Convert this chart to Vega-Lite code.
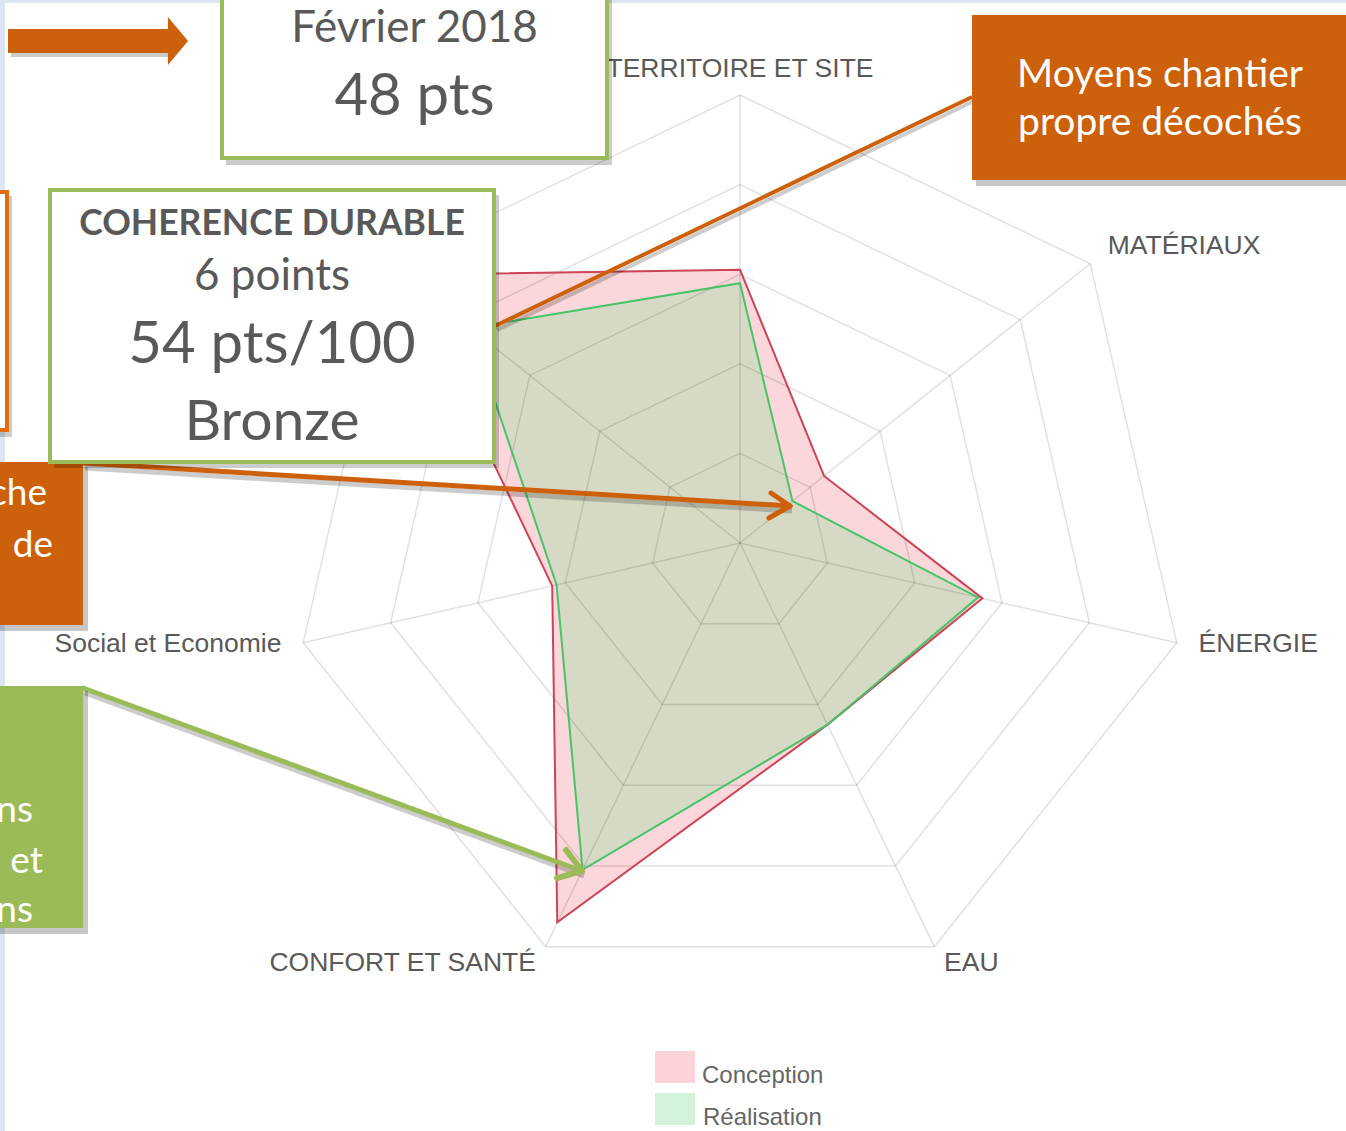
{
  "$schema": "https://vega.github.io/schema/vega-lite/v6.json",
  "width": 1346,
  "height": 1131,
  "autosize": {"type": "none"},
  "padding": 0,
  "background": "white",
  "config": {"view": {"stroke": null}},
  "datasets": {
    "radar": [
      {"k": 0, "axe": "TERRITOIRE ET SITE", "serie": "Conception", "score": 61},
      {"k": 1, "axe": "MATÉRIAUX", "serie": "Conception", "score": 24},
      {"k": 2, "axe": "ÉNERGIE", "serie": "Conception", "score": 55.5},
      {"k": 3, "axe": "EAU", "serie": "Conception", "score": 45},
      {"k": 4, "axe": "CONFORT ET SANTÉ", "serie": "Conception", "score": 94},
      {"k": 5, "axe": "Social et Economie", "serie": "Conception", "score": 43},
      {"k": 6, "axe": "GESTION DE PROJET", "serie": "Conception", "score": 96},
      {"k": 0, "axe": "TERRITOIRE ET SITE", "serie": "Réalisation", "score": 58},
      {"k": 1, "axe": "MATÉRIAUX", "serie": "Réalisation", "score": 15},
      {"k": 2, "axe": "ÉNERGIE", "serie": "Réalisation", "score": 54.5},
      {"k": 3, "axe": "EAU", "serie": "Réalisation", "score": 45},
      {"k": 4, "axe": "CONFORT ET SANTÉ", "serie": "Réalisation", "score": 81},
      {"k": 5, "axe": "Social et Economie", "serie": "Réalisation", "score": 42},
      {"k": 6, "axe": "GESTION DE PROJET", "serie": "Réalisation", "score": 77}
    ],
    "one": [{}]
  },
  "layer": [
    {
      "data": {"name": "radar"},
      "transform": [
        {"filter": "datum.serie==='Conception'"},
        {"calculate": "datum.score*cos(PI/2 - datum.k*2*PI/7)", "as": "px"},
        {"calculate": "datum.score*sin(PI/2 - datum.k*2*PI/7)", "as": "py"}
      ],
      "mark": {"type": "line", "interpolate": "linear-closed", "fill": "#fbd6da", "strokeOpacity": 0, "strokeWidth": 0},
      "encoding": {
        "x": {"field": "px", "type": "quantitative", "scale": {"domain": [-165.18, 135.27], "nice": false, "zero": false}, "axis": null},
        "y": {"field": "py", "type": "quantitative", "scale": {"domain": [-131.25, 121.21], "nice": false, "zero": false}, "axis": null},
        "order": {"field": "k", "type": "quantitative"}
      }
    },
    {
      "data": {"name": "radar"},
      "transform": [
        {"filter": "datum.serie==='Réalisation'"},
        {"calculate": "datum.score*cos(PI/2 - datum.k*2*PI/7)", "as": "px"},
        {"calculate": "datum.score*sin(PI/2 - datum.k*2*PI/7)", "as": "py"}
      ],
      "mark": {"type": "line", "interpolate": "linear-closed", "fill": "#d6dac5", "strokeOpacity": 0, "strokeWidth": 0},
      "encoding": {
        "x": {"field": "px", "type": "quantitative"},
        "y": {"field": "py", "type": "quantitative"},
        "order": {"field": "k", "type": "quantitative"}
      }
    },
    {
      "data": {"name": "radar"},
      "transform": [
        {"filter": "datum.serie==='Conception'"},
        {"calculate": "[20,40,60,80,100]", "as": "lv"},
        {"flatten": ["lv"]},
        {"calculate": "datum.lv*cos(PI/2 - datum.k*2*PI/7)", "as": "gx"},
        {"calculate": "datum.lv*sin(PI/2 - datum.k*2*PI/7)", "as": "gy"}
      ],
      "mark": {"type": "line", "interpolate": "linear-closed", "stroke": "#000000", "strokeOpacity": 0.12, "strokeWidth": 1.5},
      "encoding": {
        "x": {"field": "gx", "type": "quantitative"},
        "y": {"field": "gy", "type": "quantitative"},
        "detail": {"field": "lv", "type": "nominal"},
        "order": {"field": "k", "type": "quantitative"}
      }
    },
    {
      "data": {"name": "radar"},
      "transform": [
        {"filter": "datum.serie==='Conception'"},
        {"calculate": "[0,100]", "as": "sv"},
        {"flatten": ["sv"]},
        {"calculate": "datum.sv*cos(PI/2 - datum.k*2*PI/7)", "as": "sx"},
        {"calculate": "datum.sv*sin(PI/2 - datum.k*2*PI/7)", "as": "sy"}
      ],
      "mark": {"type": "line", "stroke": "#000000", "strokeOpacity": 0.12, "strokeWidth": 1.5},
      "encoding": {
        "x": {"field": "sx", "type": "quantitative"},
        "y": {"field": "sy", "type": "quantitative"},
        "detail": {"field": "k", "type": "nominal"},
        "order": {"field": "sv", "type": "quantitative"}
      }
    },
    {
      "data": {"name": "radar"},
      "transform": [
        {"filter": "datum.serie==='Conception'"},
        {"calculate": "datum.score*cos(PI/2 - datum.k*2*PI/7)", "as": "px"},
        {"calculate": "datum.score*sin(PI/2 - datum.k*2*PI/7)", "as": "py"}
      ],
      "mark": {"type": "line", "interpolate": "linear-closed", "stroke": "#cc4455", "strokeWidth": 2},
      "encoding": {
        "x": {"field": "px", "type": "quantitative"},
        "y": {"field": "py", "type": "quantitative"},
        "order": {"field": "k", "type": "quantitative"}
      }
    },
    {
      "data": {"name": "radar"},
      "transform": [
        {"filter": "datum.serie==='Réalisation'"},
        {"calculate": "datum.score*cos(PI/2 - datum.k*2*PI/7)", "as": "px"},
        {"calculate": "datum.score*sin(PI/2 - datum.k*2*PI/7)", "as": "py"}
      ],
      "mark": {"type": "line", "interpolate": "linear-closed", "stroke": "#45c46b", "strokeWidth": 2},
      "encoding": {
        "x": {"field": "px", "type": "quantitative"},
        "y": {"field": "py", "type": "quantitative"},
        "order": {"field": "k", "type": "quantitative"}
      }
    },
    {
      "data": {"name": "radar"},
      "transform": [
        {"filter": "datum.serie==='Conception' && datum.k==0"},
        {"calculate": "105*cos(PI/2 - datum.k*2*PI/7)", "as": "lx"},
        {"calculate": "105*sin(PI/2 - datum.k*2*PI/7)", "as": "ly"}
      ],
      "mark": {"type": "text", "align": "center", "baseline": "middle", "font": "Liberation Sans", "fontSize": 26.5, "color": "#595959", "dy": -4},
      "encoding": {"x": {"field": "lx", "type": "quantitative"}, "y": {"field": "ly", "type": "quantitative"}, "text": {"field": "axe"}}
    },
    {
      "data": {"name": "radar"},
      "transform": [
        {"filter": "datum.serie==='Conception' && datum.k>=1 && datum.k<=3"},
        {"calculate": "105*cos(PI/2 - datum.k*2*PI/7)", "as": "lx"},
        {"calculate": "105*sin(PI/2 - datum.k*2*PI/7)", "as": "ly"}
      ],
      "mark": {"type": "text", "align": "left", "baseline": "middle", "font": "Liberation Sans", "fontSize": 26.5, "color": "#595959", "dy": -4},
      "encoding": {"x": {"field": "lx", "type": "quantitative"}, "y": {"field": "ly", "type": "quantitative"}, "text": {"field": "axe"}}
    },
    {
      "data": {"name": "radar"},
      "transform": [
        {"filter": "datum.serie==='Conception' && datum.k>=4 && datum.k<=5"},
        {"calculate": "105*cos(PI/2 - datum.k*2*PI/7)", "as": "lx"},
        {"calculate": "105*sin(PI/2 - datum.k*2*PI/7)", "as": "ly"}
      ],
      "mark": {"type": "text", "align": "right", "baseline": "middle", "font": "Liberation Sans", "fontSize": 26.5, "color": "#595959", "dy": -4},
      "encoding": {"x": {"field": "lx", "type": "quantitative"}, "y": {"field": "ly", "type": "quantitative"}, "text": {"field": "axe"}}
    },
    {
      "data": {"name": "one"},
      "mark": {"type": "rect", "fill": "#dce6f2"},
      "encoding": {"x": {"datum": -165.18}, "x2": {"datum": -164.06}, "y": {"datum": -131.25}, "y2": {"datum": 121.21}}
    },
    {
      "data": {"name": "one"},
      "mark": {"type": "rect", "fill": "#dce6f2"},
      "encoding": {"x": {"datum": -165.18}, "x2": {"datum": 135.27}, "y": {"datum": 120.54}, "y2": {"datum": 121.21}}
    },
    {
      "data": {"name": "one"},
      "mark": {"type": "rect", "fill": "#fbd3d8"},
      "encoding": {"x": {"datum": -18.97}, "x2": {"datum": -10.04}, "y": {"datum": -113.39}, "y2": {"datum": -120.54}}
    },
    {
      "data": {"name": "one"},
      "mark": {"type": "rect", "fill": "#d2f3da"},
      "encoding": {"x": {"datum": -18.97}, "x2": {"datum": -10.04}, "y": {"datum": -122.77}, "y2": {"datum": -129.91}}
    },
    {
      "data": {"name": "one"},
      "mark": {"type": "text", "text": "Conception", "align": "left", "baseline": "middle", "font": "Liberation Sans", "fontSize": 24, "color": "#666666"},
      "encoding": {"x": {"datum": -8.48}, "y": {"datum": -119.0}}
    },
    {
      "data": {"name": "one"},
      "mark": {"type": "text", "text": "Réalisation", "align": "left", "baseline": "middle", "font": "Liberation Sans", "fontSize": 24, "color": "#666666"},
      "encoding": {"x": {"datum": -8.26}, "y": {"datum": -128.3}}
    },
    {
      "data": {"name": "one"},
      "mark": {"type": "rect", "fill": "#000000", "opacity": 0.2},
      "encoding": {"x": {"datum": -162.72}, "x2": {"datum": -127.0}, "y": {"datum": 114.06}, "y2": {"datum": 108.48}}
    },
    {
      "data": {"name": "one"},
      "mark": {"type": "rect", "fill": "#cd600a"},
      "encoding": {"x": {"datum": -163.39}, "x2": {"datum": -127.68}, "y": {"datum": 114.73}, "y2": {"datum": 109.38}}
    },
    {
      "data": {"name": "one"},
      "mark": {"type": "point", "filled": true, "shape": "M-0.42,-1L0.42,0L-0.42,1Z", "size": 2304, "color": "#cd600a", "opacity": 1},
      "encoding": {"x": {"datum": -125.45}, "y": {"datum": 112.05}}
    },
    {
      "data": {"name": "one"},
      "mark": {"type": "rule", "stroke": "#000000", "strokeOpacity": 0.2, "strokeWidth": 4},
      "encoding": {"x": {"datum": 52.23}, "y": {"datum": 98.66}, "x2": {"datum": -54.24}, "y2": {"datum": 47.54}}
    },
    {
      "data": {"name": "one"},
      "mark": {"type": "rule", "stroke": "#cd600a", "strokeWidth": 4},
      "encoding": {"x": {"datum": 51.79}, "y": {"datum": 99.55}, "x2": {"datum": -54.69}, "y2": {"datum": 48.44}}
    },
    {
      "data": {"name": "one"},
      "mark": {"type": "rule", "stroke": "#000000", "strokeOpacity": 0.2, "strokeWidth": 5},
      "encoding": {"x": {"datum": -146.21}, "y": {"datum": 16.74}, "x2": {"datum": 11.61}, "y2": {"datum": 7.14}}
    },
    {
      "data": {"name": "one"},
      "mark": {"type": "rule", "stroke": "#cd600a", "strokeWidth": 5, "strokeCap": "round"},
      "encoding": {"x": {"datum": -146.65}, "y": {"datum": 17.86}, "x2": {"datum": 11.16}, "y2": {"datum": 8.26}}
    },
    {
      "data": {"name": "one"},
      "mark": {"type": "rule", "stroke": "#cd600a", "strokeWidth": 5, "strokeCap": "round"},
      "encoding": {"x": {"datum": 11.16}, "y": {"datum": 8.26}, "x2": {"datum": 6.92}, "y2": {"datum": 11.16}}
    },
    {
      "data": {"name": "one"},
      "mark": {"type": "rule", "stroke": "#cd600a", "strokeWidth": 5, "strokeCap": "round"},
      "encoding": {"x": {"datum": 11.16}, "y": {"datum": 8.26}, "x2": {"datum": 6.47}, "y2": {"datum": 5.58}}
    },
    {
      "data": {"name": "one"},
      "mark": {"type": "rule", "stroke": "#000000", "strokeOpacity": 0.2, "strokeWidth": 5},
      "encoding": {"x": {"datum": -146.21}, "y": {"datum": -33.48}, "x2": {"datum": -34.82}, "y2": {"datum": -74.33}}
    },
    {
      "data": {"name": "one"},
      "mark": {"type": "rule", "stroke": "#9bbb59", "strokeWidth": 5, "strokeCap": "round"},
      "encoding": {"x": {"datum": -146.65}, "y": {"datum": -32.37}, "x2": {"datum": -35.27}, "y2": {"datum": -73.21}}
    },
    {
      "data": {"name": "one"},
      "mark": {"type": "rule", "stroke": "#9bbb59", "strokeWidth": 6, "strokeCap": "round"},
      "encoding": {"x": {"datum": -35.27}, "y": {"datum": -73.21}, "x2": {"datum": -38.84}, "y2": {"datum": -68.53}}
    },
    {
      "data": {"name": "one"},
      "mark": {"type": "rule", "stroke": "#9bbb59", "strokeWidth": 6, "strokeCap": "round"},
      "encoding": {"x": {"datum": -35.27}, "y": {"datum": -73.21}, "x2": {"datum": -40.85}, "y2": {"datum": -74.78}}
    },
    {
      "data": {"name": "one"},
      "mark": {"type": "rect", "fill": "#000000", "opacity": 0.2},
      "encoding": {"x": {"datum": -187.5}, "x2": {"datum": -162.5}, "y": {"datum": 77.46}, "y2": {"datum": 23.66}}
    },
    {
      "data": {"name": "one"},
      "mark": {"type": "rect", "fill": "#ffffff", "stroke": "#e46c0a", "strokeWidth": 4},
      "encoding": {"x": {"datum": -187.5}, "x2": {"datum": -163.62}, "y": {"datum": 78.35}, "y2": {"datum": 25.22}}
    },
    {
      "data": {"name": "one"},
      "mark": {"type": "rect", "fill": "#000000", "opacity": 0.22},
      "encoding": {"x": {"datum": -187.5}, "x2": {"datum": -145.54}, "y": {"datum": 16.96}, "y2": {"datum": -19.64}}
    },
    {
      "data": {"name": "one"},
      "mark": {"type": "rect", "fill": "#cd600a"},
      "encoding": {"x": {"datum": -187.5}, "x2": {"datum": -146.65}, "y": {"datum": 18.08}, "y2": {"datum": -18.30}}
    },
    {
      "data": {"name": "one"},
      "mark": {"type": "text", "text": "che", "align": "right", "baseline": "alphabetic", "font": "Lato", "fontSize": 37, "color": "#ffffff"},
      "encoding": {"x": {"datum": -154.69}, "y": {"datum": 8.48}}
    },
    {
      "data": {"name": "one"},
      "mark": {"type": "text", "text": "de", "align": "right", "baseline": "alphabetic", "font": "Lato", "fontSize": 37, "color": "#ffffff"},
      "encoding": {"x": {"datum": -153.35}, "y": {"datum": -3.125}}
    },
    {
      "data": {"name": "one"},
      "mark": {"type": "rect", "fill": "#000000", "opacity": 0.22},
      "encoding": {"x": {"datum": -187.5}, "x2": {"datum": -145.54}, "y": {"datum": -33.04}, "y2": {"datum": -87.28}}
    },
    {
      "data": {"name": "one"},
      "mark": {"type": "rect", "fill": "#9bbb59"},
      "encoding": {"x": {"datum": -187.5}, "x2": {"datum": -146.65}, "y": {"datum": -31.92}, "y2": {"datum": -85.94}}
    },
    {
      "data": {"name": "one"},
      "mark": {"type": "text", "text": "ns", "align": "right", "baseline": "alphabetic", "font": "Lato", "fontSize": 37, "color": "#ffffff"},
      "encoding": {"x": {"datum": -157.81}, "y": {"datum": -62.28}}
    },
    {
      "data": {"name": "one"},
      "mark": {"type": "text", "text": "et", "align": "right", "baseline": "alphabetic", "font": "Lato", "fontSize": 37, "color": "#ffffff"},
      "encoding": {"x": {"datum": -155.58}, "y": {"datum": -73.66}}
    },
    {
      "data": {"name": "one"},
      "mark": {"type": "text", "text": "ns", "align": "right", "baseline": "alphabetic", "font": "Lato", "fontSize": 37, "color": "#ffffff"},
      "encoding": {"x": {"datum": -157.81}, "y": {"datum": -84.60}}
    },
    {
      "data": {"name": "one"},
      "mark": {"type": "rect", "fill": "#000000", "opacity": 0.2},
      "encoding": {"x": {"datum": -153.13}, "x2": {"datum": -53.79}, "y": {"datum": 77.68}, "y2": {"datum": 16.74}}
    },
    {
      "data": {"name": "one"},
      "mark": {"type": "rect", "fill": "#ffffff", "stroke": "#9bbb59", "strokeWidth": 4},
      "encoding": {"x": {"datum": -154.02}, "x2": {"datum": -54.91}, "y": {"datum": 78.79}, "y2": {"datum": 18.08}}
    },
    {
      "data": {"name": "one"},
      "mark": {"type": "text", "text": "COHERENCE DURABLE", "align": "center", "baseline": "alphabetic", "font": "Lato", "fontWeight": "bold", "fontSize": 35.5, "color": "#595959"},
      "encoding": {"x": {"datum": -104.46}, "y": {"datum": 68.75}}
    },
    {
      "data": {"name": "one"},
      "mark": {"type": "text", "text": "6 points", "align": "center", "baseline": "alphabetic", "font": "Lato", "fontSize": 44, "color": "#595959"},
      "encoding": {"x": {"datum": -104.46}, "y": {"datum": 56.47}}
    },
    {
      "data": {"name": "one"},
      "mark": {"type": "text", "text": "54 pts/100", "align": "center", "baseline": "alphabetic", "font": "Lato", "fontSize": 58, "color": "#595959"},
      "encoding": {"x": {"datum": -104.46}, "y": {"datum": 40.18}}
    },
    {
      "data": {"name": "one"},
      "mark": {"type": "text", "text": "Bronze", "align": "center", "baseline": "alphabetic", "font": "Lato", "fontSize": 57, "color": "#595959"},
      "encoding": {"x": {"datum": -104.46}, "y": {"datum": 22.99}}
    },
    {
      "data": {"name": "one"},
      "mark": {"type": "rect", "fill": "#000000", "opacity": 0.2},
      "encoding": {"x": {"datum": -114.73}, "x2": {"datum": -28.57}, "y": {"datum": 125.67}, "y2": {"datum": 84.38}}
    },
    {
      "data": {"name": "one"},
      "mark": {"type": "rect", "fill": "#ffffff", "stroke": "#9bbb59", "strokeWidth": 4},
      "encoding": {"x": {"datum": -115.63}, "x2": {"datum": -29.69}, "y": {"datum": 125.67}, "y2": {"datum": 85.94}}
    },
    {
      "data": {"name": "one"},
      "mark": {"type": "text", "text": "Février 2018", "align": "center", "baseline": "alphabetic", "font": "Lato", "fontSize": 44, "color": "#595959"},
      "encoding": {"x": {"datum": -72.66}, "y": {"datum": 111.83}}
    },
    {
      "data": {"name": "one"},
      "mark": {"type": "text", "text": "48 pts", "align": "center", "baseline": "alphabetic", "font": "Lato", "fontSize": 58, "color": "#595959"},
      "encoding": {"x": {"datum": -72.66}, "y": {"datum": 95.54}}
    },
    {
      "data": {"name": "one"},
      "mark": {"type": "rect", "fill": "#000000", "opacity": 0.22},
      "encoding": {"x": {"datum": 52.68}, "x2": {"datum": 147.32}, "y": {"datum": 116.96}, "y2": {"datum": 79.69}}
    },
    {
      "data": {"name": "one"},
      "mark": {"type": "rect", "fill": "#cd600a"},
      "encoding": {"x": {"datum": 51.79}, "x2": {"datum": 147.32}, "y": {"datum": 117.86}, "y2": {"datum": 81.03}}
    },
    {
      "data": {"name": "one"},
      "mark": {"type": "text", "text": "Moyens chantier", "align": "center", "baseline": "alphabetic", "font": "Lato", "fontSize": 39, "color": "#ffffff"},
      "encoding": {"x": {"datum": 93.75}, "y": {"datum": 101.79}}
    },
    {
      "data": {"name": "one"},
      "mark": {"type": "text", "text": "propre décochés", "align": "center", "baseline": "alphabetic", "font": "Lato", "fontSize": 39, "color": "#ffffff"},
      "encoding": {"x": {"datum": 93.75}, "y": {"datum": 91.07}}
    }
  ]
}
